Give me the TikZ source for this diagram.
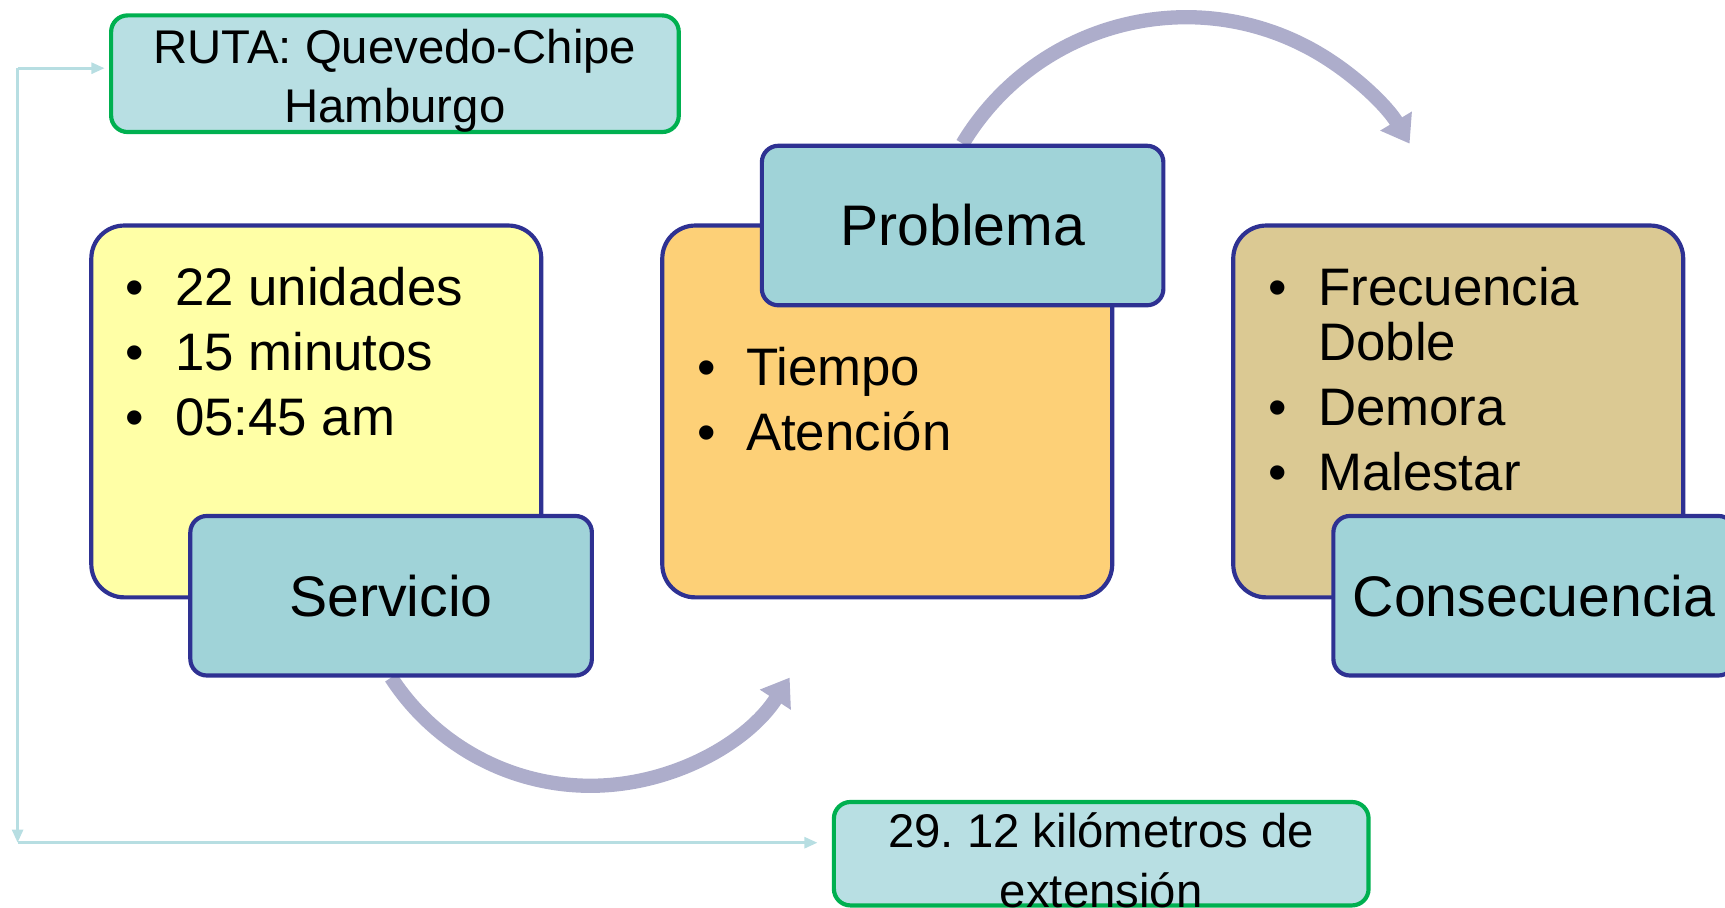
\documentclass[tikz,border=0pt]{standalone}
\usepackage{fontspec}
\setmainfont{Liberation Sans}
\usetikzlibrary{arrows.meta,backgrounds}
\definecolor{bord}{RGB}{46,49,146}
\definecolor{tealbox}{RGB}{160,211,216}
\definecolor{routefill}{RGB}{184,223,227}
\definecolor{greenb}{RGB}{0,176,80}
\definecolor{yellowb}{RGB}{255,255,166}
\definecolor{orangeb}{RGB}{253,208,119}
\definecolor{tanb}{RGB}{219,201,147}
\definecolor{arrowc}{RGB}{173,173,203}
\definecolor{connc}{RGB}{183,222,226}
\frenchspacing
\begin{document}
\begin{tikzpicture}[x=1pt,y=-1pt,
  bigbox/.style={draw=bord, line width=3.8pt, rounded corners=30pt, minimum width=409pt, minimum height=338pt, inner sep=0pt},
  titlebox/.style={draw=bord, line width=3.8pt, rounded corners=15pt, fill=tealbox, minimum width=365pt, minimum height=145pt, inner sep=0pt, font=\fontsize{52}{60}\selectfont},
  routebox/.style={draw=greenb, line width=3.8pt, rounded corners=15pt, fill=routefill, inner sep=0pt},
  routetext/.style={inner sep=0pt, align=center, font=\fontsize{43}{54}\selectfont},
  listtext/.style={anchor=base west, inner sep=0pt, font=\fontsize{48}{50}\selectfont},
  bigarrow/.style={draw=arrowc, line width=13pt, -{Triangle[width=32pt,length=24pt]}},
  conn/.style={draw=connc, line width=2.5pt, -{Triangle[width=10pt,length=12pt]}}]
\useasboundingbox (0,0) rectangle (1568,825);

% route boxes
\node[routebox, minimum width=516pt, minimum height=106pt] (ruta) at (359,67) {};
\node[routetext] (rutat) at (359,73.5) {RUTA: Quevedo-Chipe\\Hamburgo};
\node[routebox, minimum width=486pt, minimum height=94pt] (ext) at (1001,776) {};
\node[routetext] (extt) at (1001,782) {29. 12 kilómetros de\\extensión};

% big boxes
\node[bigbox, fill=yellowb] (servlist) at (287.5,374) {};
\node[bigbox, fill=orangeb] (problist) at (806.5,374) {};
\node[bigbox, fill=tanb] (conslist) at (1325.5,374) {};

% lists
\node[listtext] (servitems) at (114,278) {\begin{tabular}[t]{@{}p{45pt}@{}l@{}}\textbullet & 22 unidades\\[9pt] \textbullet & 15 minutos\\[9pt] \textbullet & 05:45 am\end{tabular}};
\node[listtext] (probitems) at (634,350) {\begin{tabular}[t]{@{}p{44pt}@{}l@{}}\textbullet & Tiempo\\[9pt] \textbullet & Atención\end{tabular}};
\node[listtext] (consitems) at (1153,278) {\begin{tabular}[t]{@{}p{45pt}@{}l@{}}\textbullet & Frecuencia\\ & Doble\\[9pt] \textbullet & Demora\\[9pt] \textbullet & Malestar\end{tabular}};

% title boxes
\node[titlebox] (serv) at (355.5,541.5) {Servicio};
\node[titlebox] (prob) at (875,205) {Problema};
\node[titlebox] (cons) at (1394.5,541.5) {Consecuencia};

% curved arrows
\begin{scope}[on background layer]
\draw[bigarrow] (serv.south) arc[start angle=147, end angle=33, radius=216];
\draw[bigarrow] (prob.north) arc[start angle=211, end angle=329, radius=237];
\end{scope}

% connectors
\coordinate (ctop) at (16,62);
\coordinate (cbot) at (16,766);
\draw[conn, shorten >=4pt] (ctop) -- (ctop -| ruta.west);
\draw[conn] (ctop) -- (cbot);
\draw[conn, shorten >=13pt] (cbot) -- (cbot -| ext.west);
\end{tikzpicture}
\end{document}
